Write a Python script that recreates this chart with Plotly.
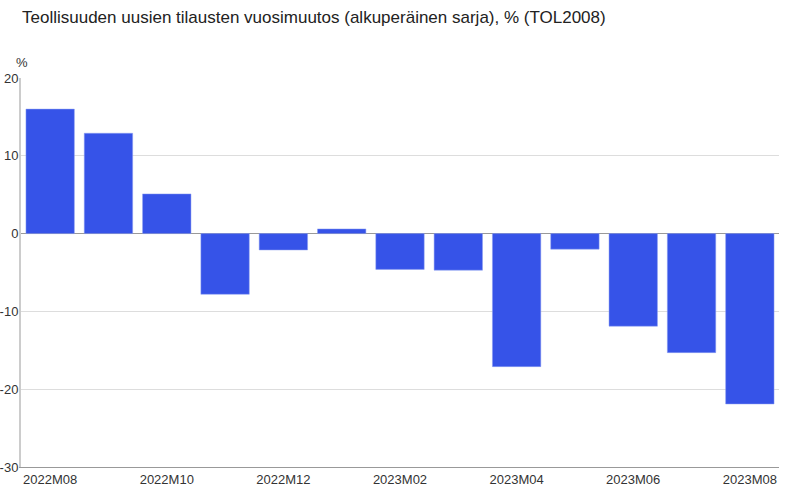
import plotly.graph_objects as go

months = ["2022M08", "2022M09", "2022M10", "2022M11", "2022M12", "2023M01",
          "2023M02", "2023M03", "2023M04", "2023M05", "2023M06", "2023M07", "2023M08"]
values = [16.0, 12.9, 5.1, -7.8, -2.1, 0.6, -4.6, -4.7, -17.1, -2.0, -11.9, -15.3, -21.9]
tick_labels = ["2022M08", "2022M10", "2022M12", "2023M02", "2023M04", "2023M06", "2023M08"]
y_ticks = [-30, -20, -10, 0, 10, 20]
y_tick_text = ["-30", "-20", "-10", "0", "10", "20"]

font_family = "Liberation Sans, Arial, sans-serif"

fig = go.Figure(go.Bar(
    x=months, y=values,
    marker=dict(color="#3653e8", line=dict(color="#8d9ff0", width=0.5)),
    width=0.83,
))

fig.update_layout(
    width=800, height=496,
    margin=dict(l=21, r=21, t=78, b=29, autoexpand=False),
    paper_bgcolor="white", plot_bgcolor="white",
    showlegend=False,
    font=dict(family=font_family, size=13, color="#333333"),
    title=dict(text="Teollisuuden uusien tilausten vuosimuutos (alkuperäinen sarja), % (TOL2008)",
               x=22/800, xanchor="left", y=1-17/496, yanchor="middle",
               font=dict(family=font_family, size=17, color="#222222")),
    xaxis=dict(
        type="category", range=[-0.5, 12.5], automargin=False,
        tickmode="array", tickvals=tick_labels, ticktext=tick_labels,
        showgrid=False, showline=True, linecolor="#999999", linewidth=1,
        ticks="", tickfont=dict(size=13, color="#333333"),
    ),
    yaxis=dict(
        range=[-30, 20], tickmode="array", tickvals=y_ticks, ticktext=y_tick_text,
        automargin=False,
        showgrid=True, gridcolor="#dddddd", gridwidth=1,
        zeroline=True, zerolinecolor="#999999", zerolinewidth=1,
        showline=True, linecolor="#cccccc", linewidth=2,
        ticks="", ticklabelstandoff=-2, tickfont=dict(size=13, color="#333333"),
    ),
    annotations=[dict(text="%", xref="paper", yref="paper", x=-7/758, y=1+16/389,
                      xanchor="left", yanchor="middle", showarrow=False,
                      font=dict(family=font_family, size=13, color="#333333"))],
)

fig.write_html("out.html", config={"displayModeBar": False},
               post_script="document.body.style.margin='0';document.body.style.padding='0';")
